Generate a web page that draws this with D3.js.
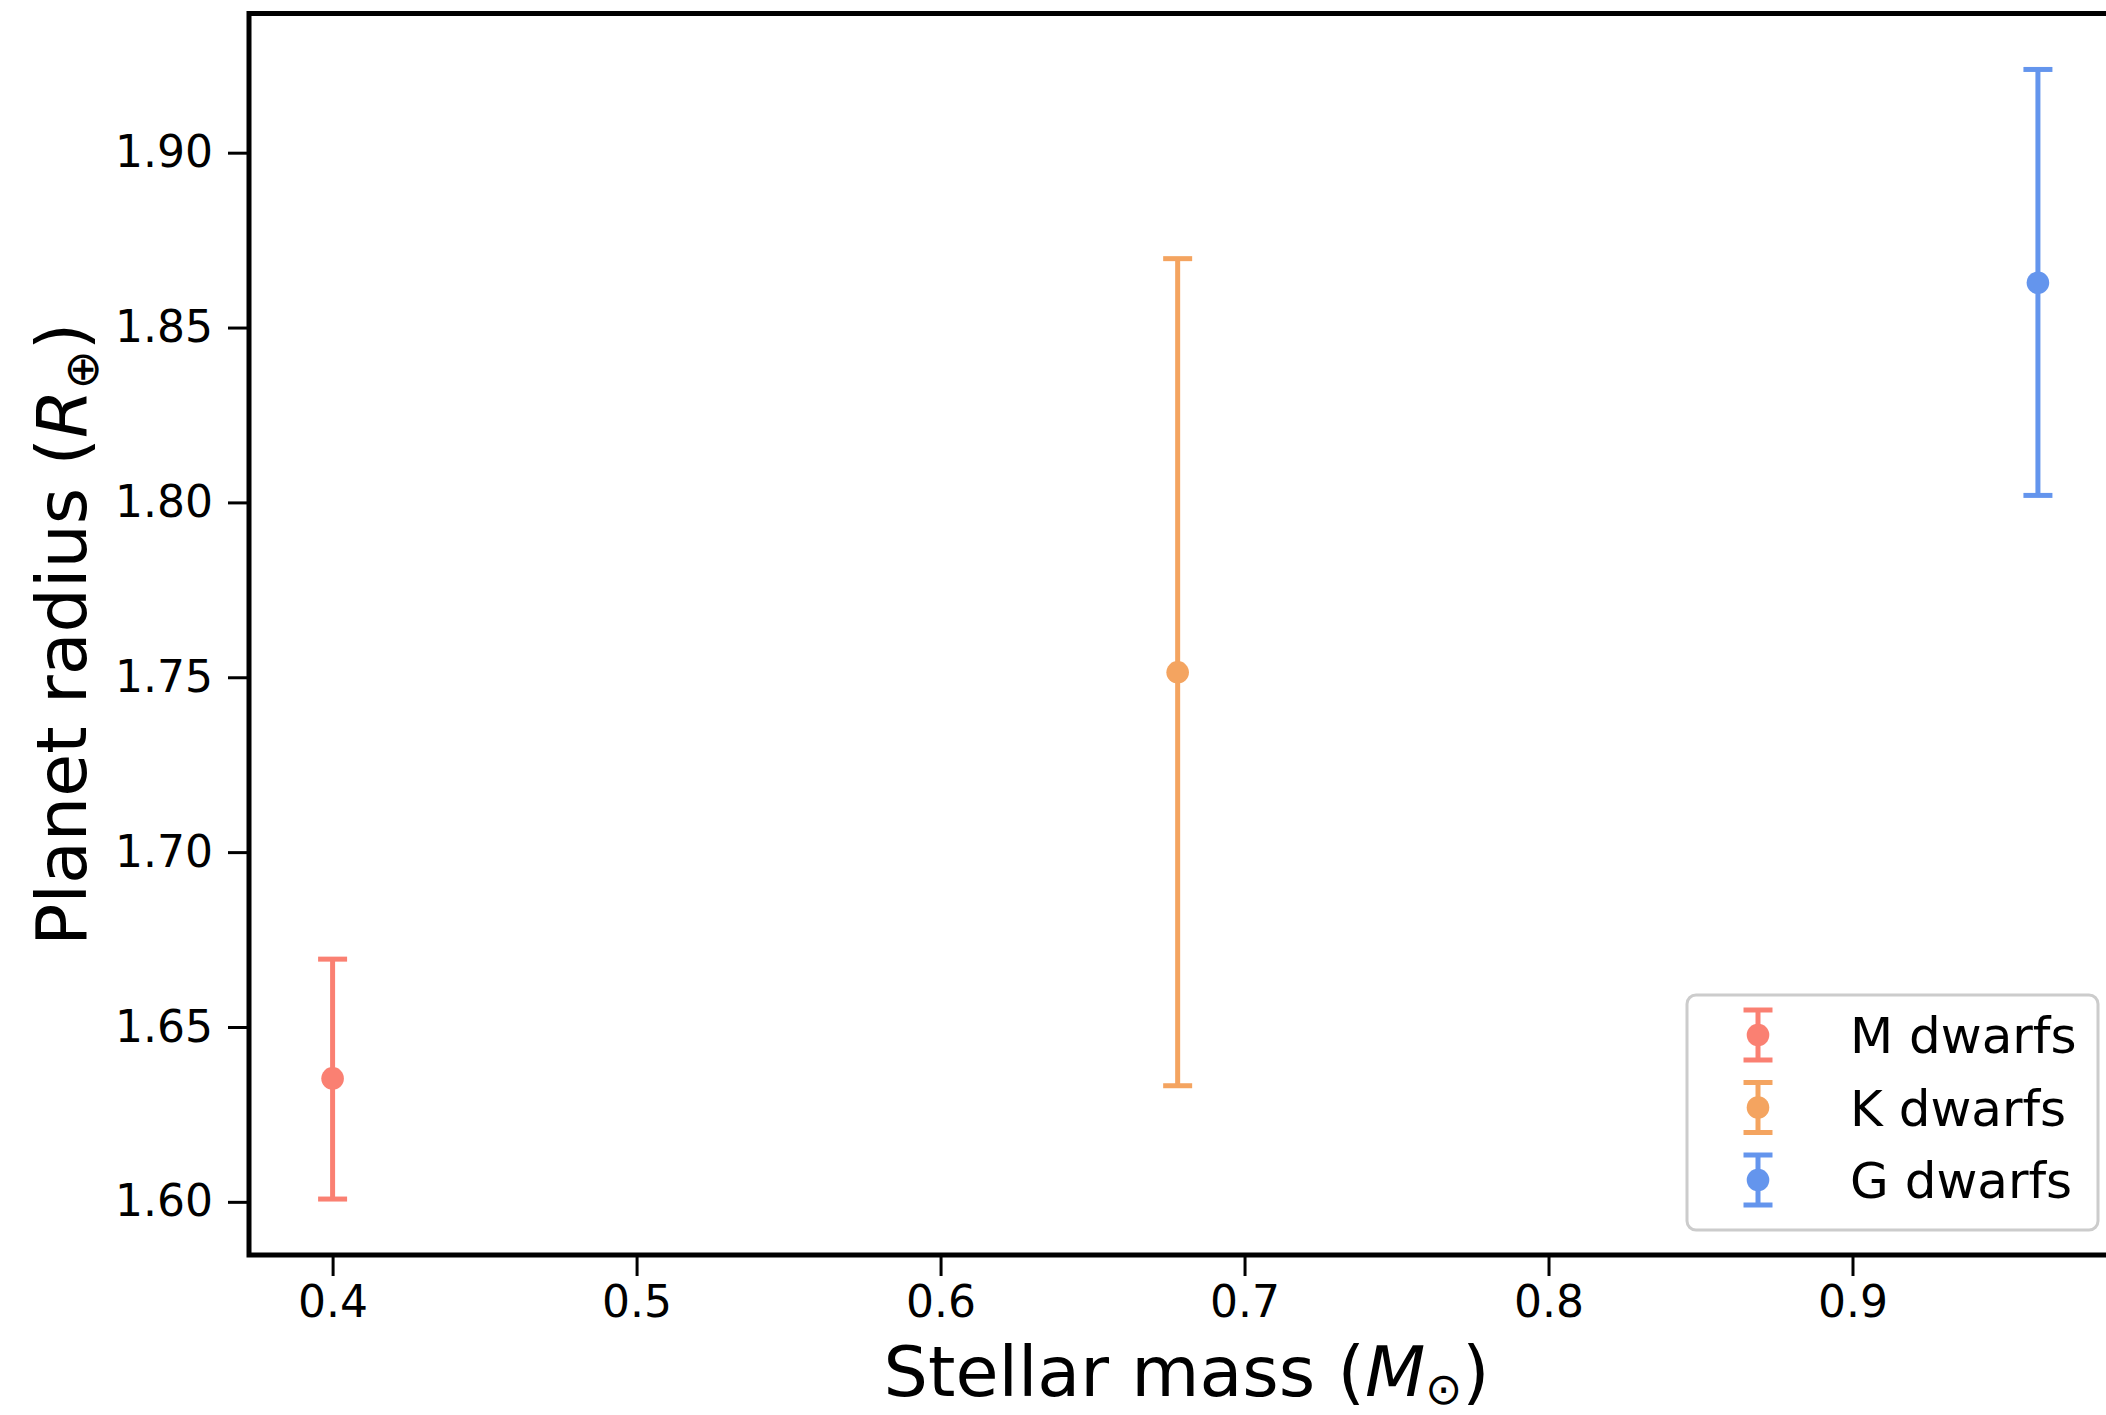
<!DOCTYPE html>
<html>
<head>
<meta charset="utf-8">
<script src="https://cdn.jsdelivr.net/npm/d3@7"></script>
<style>
  body { margin: 0; background: #fff; }
  text { font-family: "DejaVu Sans", sans-serif; }
</style>
</head>
<body>
<div id="canvas"></div>
<script>
// data
const groups = ["M dwarfs", "K dwarfs", "G dwarfs"];
const mass = [0.400, 0.678, 0.961];
const radius = [1.6353, 1.7514, 1.8628];
const radiusLow = [1.6008, 1.6332, 1.8020];
const radiusHigh = [1.6694, 1.8697, 1.9238];
const colors = ["#fa8072", "#f4a460", "#6495ed"];
const xTicks = [0.4, 0.5, 0.6, 0.7, 0.8, 0.9];
const yTicks = [1.60, 1.65, 1.70, 1.75, 1.80, 1.85, 1.90];

const width = 2106;
const height = 1415;
const pLeft = 249, pTop = 13.5, pRight = 2120, pBottom = 1255;

const svg = d3.select("#canvas").append("svg")
  .attr("width", width)
  .attr("height", height);

const x = d3.scaleLinear().domain([0.3725, 0.988]).range([pLeft, pRight]);
const y = d3.scaleLinear().domain([1.5848, 1.9398]).range([pBottom, pTop]);

const data = groups.map((g, i) => ({
  name: g, x: mass[i], y: radius[i], lo: radiusLow[i], hi: radiusHigh[i], c: colors[i]
}));

// axes
const xAxis = svg.append("g")
  .attr("transform", `translate(0,${pBottom})`)
  .call(d3.axisBottom(x).tickValues(xTicks).tickFormat(d3.format(".1f")).tickSize(21).tickPadding(10));
const yAxis = svg.append("g")
  .attr("transform", `translate(${pLeft},0)`)
  .call(d3.axisLeft(y).tickValues(yTicks).tickFormat(d3.format(".2f")).tickSize(21).tickPadding(15));

[xAxis, yAxis].forEach(a => {
  a.select(".domain").remove();
  a.selectAll(".tick line").attr("stroke", "#000").attr("stroke-width", 3);
  a.selectAll(".tick text")
    .attr("fill", "#000")
    .style("font-size", "44px")
    .style("font-family", "DejaVu Sans, sans-serif");
});

// error bars
const g = svg.append("g");
const capW = 14.5;
const lw = 5;
const pts = g.selectAll(".pt").data(data).enter().append("g");
pts.append("line")
  .attr("x1", d => x(d.x)).attr("x2", d => x(d.x))
  .attr("y1", d => y(d.lo)).attr("y2", d => y(d.hi))
  .attr("stroke", d => d.c).attr("stroke-width", lw);
pts.append("line")
  .attr("x1", d => x(d.x) - capW).attr("x2", d => x(d.x) + capW)
  .attr("y1", d => y(d.lo)).attr("y2", d => y(d.lo))
  .attr("stroke", d => d.c).attr("stroke-width", lw);
pts.append("line")
  .attr("x1", d => x(d.x) - capW).attr("x2", d => x(d.x) + capW)
  .attr("y1", d => y(d.hi)).attr("y2", d => y(d.hi))
  .attr("stroke", d => d.c).attr("stroke-width", lw);
pts.append("circle")
  .attr("cx", d => x(d.x)).attr("cy", d => y(d.y))
  .attr("r", 11.3).attr("fill", d => d.c);

// spines
svg.append("rect")
  .attr("x", pLeft).attr("y", pTop)
  .attr("width", pRight - pLeft).attr("height", pBottom - pTop)
  .attr("fill", "none").attr("stroke", "#000").attr("stroke-width", 5);

// axis labels
const xl = svg.append("text")
  .attr("x", (pLeft + pRight) / 2 + 2).attr("y", 1396)
  .attr("text-anchor", "middle")
  .style("font-size", "70px");
xl.append("tspan").text("Stellar mass (");
xl.append("tspan").attr("font-style", "italic").text("M");
xl.append("tspan").attr("dy", 8).style("font-size", "44px").text("\u2299");
xl.append("tspan").attr("dy", -8).text(")");

const yl = svg.append("text")
  .attr("transform", `translate(86,${(pTop + pBottom) / 2}) rotate(-90)`)
  .attr("text-anchor", "middle")
  .style("font-size", "70px");
yl.append("tspan").text("Planet radius (");
yl.append("tspan").attr("font-style", "italic").text("R");
yl.append("tspan").attr("dy", 12).style("font-size", "47px").text("\u2295");
yl.append("tspan").attr("dy", -12).text(")");

// legend
const leg = svg.append("g");
leg.append("rect")
  .attr("x", 1687).attr("y", 995)
  .attr("width", 411).attr("height", 235)
  .attr("rx", 9)
  .attr("fill", "#fff").attr("fill-opacity", 0.8)
  .attr("stroke", "#cccccc").attr("stroke-width", 3);
const rows = leg.selectAll(".row").data(data).enter().append("g")
  .attr("transform", (d, i) => `translate(1758,${1035 + i * 72.5})`);
rows.append("line").attr("y1", -25).attr("y2", 25)
  .attr("stroke", d => d.c).attr("stroke-width", lw);
rows.append("line").attr("x1", -capW).attr("x2", capW).attr("y1", -25).attr("y2", -25)
  .attr("stroke", d => d.c).attr("stroke-width", lw);
rows.append("line").attr("x1", -capW).attr("x2", capW).attr("y1", 25).attr("y2", 25)
  .attr("stroke", d => d.c).attr("stroke-width", lw);
rows.append("circle").attr("r", 11.3).attr("fill", d => d.c);
rows.append("text")
  .attr("x", 92).attr("y", 18)
  .style("font-size", "50px")
  .text(d => d.name);
</script>
</body>
</html>
